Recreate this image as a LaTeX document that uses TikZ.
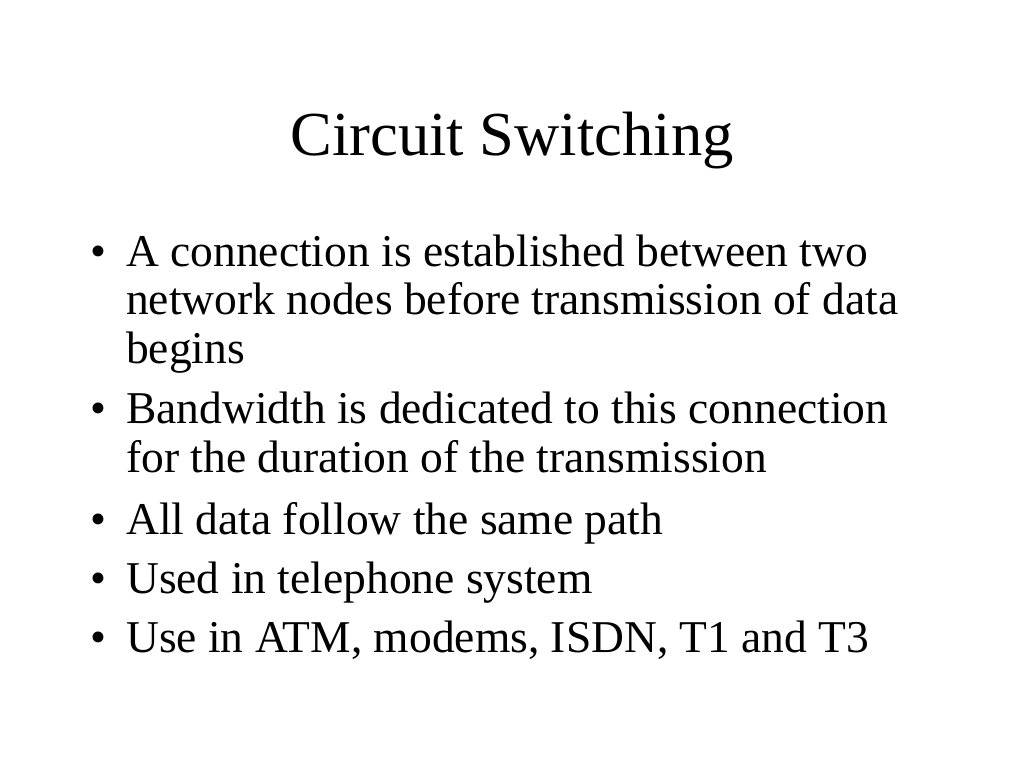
\documentclass[tikz,border=0pt]{standalone}
\usepackage{fontspec}
\setmainfont{Liberation Serif}
\usepackage{tikz}

\tikzset{
  slidetitle/.style={anchor=base, inner sep=0pt, font=\fontsize{62.6}{70}\selectfont},
  bullettext/.style={anchor=base west, inner sep=0pt, font=\fontsize{45.5}{48.5}\selectfont},
  bulletmark/.style={anchor=base west, inner sep=0pt, font=\fontsize{45.5}{48.5}\selectfont}
}

\begin{document}
\begin{tikzpicture}[x=1pt, y=1pt]

\fill[white] (0,0) rectangle (1024,-768);

\node[slidetitle] (title) at (512,-155) {Circuit Switching};

\node[bulletmark] (b1) at (90,-266) {\textbullet};
\node[bullettext] (l1a) at (126,-266) {A connection is established between two};
\node[bullettext] (l1b) at (126,-314.5) {network nodes before transmission of data};
\node[bullettext] (l1c) at (126,-363) {begins};

\node[bulletmark] (b2) at (90,-423) {\textbullet};
\node[bullettext] (l2a) at (126,-423) {Bandwidth is dedicated to this connection};
\node[bullettext] (l2b) at (126,-472) {for the duration of the transmission};

\node[bulletmark] (b3) at (90,-534) {\textbullet};
\node[bullettext] (l3a) at (126,-534) {All data follow the same path};

\node[bulletmark] (b4) at (90,-593) {\textbullet};
\node[bullettext] (l4a) at (126,-593) {Used in telephone system};

\node[bulletmark] (b5) at (90,-652) {\textbullet};
\node[bullettext] (l5a) at (126,-652) {Use in ATM, modems, ISDN, T1 and T3};

\end{tikzpicture}
\end{document}
